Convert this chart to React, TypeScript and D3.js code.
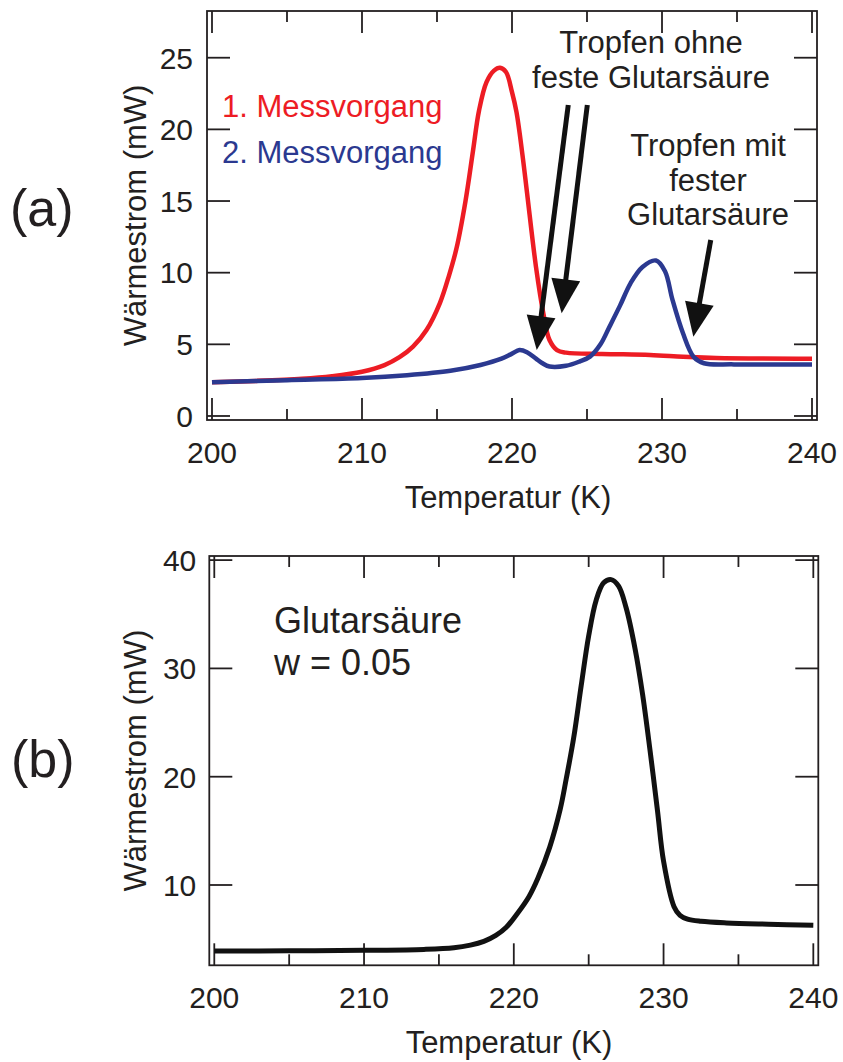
import React from "react";
import * as d3 from "d3";

// ---------- data ----------
const redT = [200, 203, 206, 208, 210, 211.5, 212.5, 213.4, 214.3, 215.2, 215.8, 216.3, 216.9, 217.4, 217.8, 218.3, 218.8, 219.2, 219.6, 220.0, 220.3, 220.7, 221.0, 221.6, 222.1, 222.5, 223.0, 223.6, 226, 229.2, 231.4, 233.6, 240];
const redW = [2.35, 2.45, 2.6, 2.78, 3.09, 3.55, 4.1, 4.84, 6.0, 7.9, 9.8, 11.7, 15.0, 18.5, 21.3, 23.3, 24.1, 24.3, 24.0, 22.6, 21.2, 18.2, 15.6, 10.4, 7.1, 5.3, 4.6, 4.42, 4.33, 4.26, 4.14, 4.05, 4.0];

const blueT = [200, 205, 210, 213, 215.9, 217.9, 219.3, 220.0, 220.5, 221.0, 221.6, 222.0, 222.5, 223.6, 224.5, 225.2, 225.9, 226.5, 227.2, 227.9, 228.7, 229.6, 230.2, 230.7, 231.4, 232.1, 232.8, 234.8, 240];
const blueW = [2.35, 2.5, 2.65, 2.85, 3.16, 3.56, 4.0, 4.35, 4.6, 4.45, 4.0, 3.7, 3.45, 3.5, 3.8, 4.14, 5.0, 6.23, 7.7, 9.26, 10.4, 10.85, 10.1, 8.1, 5.77, 4.14, 3.68, 3.6, 3.6];

const blackT = [200, 205, 210, 214, 216, 217.1, 218, 218.8, 219.5, 220.2, 221, 221.6, 222.4, 223.1, 223.5, 224, 224.5, 225.0, 225.5, 226.0, 226.5, 227.0, 227.5, 228.1, 228.6, 229.1, 229.6, 230, 230.7, 231.1, 231.6, 232.5, 234.2, 237, 240];
const blackW = [3.9, 3.92, 3.97, 4.05, 4.2, 4.45, 4.8, 5.35, 6.1, 7.3, 8.9, 10.6, 13.5, 17.0, 19.8, 23.6, 28.4, 33.0, 36.3, 37.9, 38.2, 37.6, 35.6, 31.8, 27.6, 22.4, 16.8, 12.2, 8.0, 7.2, 6.85, 6.65, 6.5, 6.38, 6.28];

const xMajorTicks = [200, 210, 220, 230, 240];
const xMinorTicks = [205, 215, 225, 235];
const yTicksTop = [0, 5, 10, 15, 20, 25];
const yTicksBottom = [10, 20, 30, 40];

const legendLabels = ["1. Messvorgang", "2. Messvorgang"];
const annotOhne = ["Tropfen ohne", "feste Glutarsäure"];
const annotMit = ["Tropfen mit", "fester", "Glutarsäure"];
const annotBottom = ["Glutarsäure", "w = 0.05"];
// arrows in data coords: [startT, startW, tipT, tipW]
const arrows = [
  [223.75, 21.7, 221.65, 4.6],
  [225.02, 21.7, 223.31, 7.17],
  [233.25, 12.28, 232.09, 5.53],
];

const FONT = "'Liberation Sans', Arial, Helvetica, sans-serif";
const INK = "#231f20";
const RED = "#ed1c24";
const BLUE = "#2b3990";

type Scale = d3.ScaleLinear<number, number>;

function Frame({ x, y, yTicks, labelDx }: { x: Scale; y: Scale; yTicks: number[]; labelDx: number }) {
  const [x0, x1] = x.range();
  const [y0, y1] = y.range(); // y0 bottom, y1 top
  const major = 22;
  const minor = 11;
  const yt = 23;
  return (
    <g stroke={INK} strokeWidth={1.8} fill="none">
      <rect x={x0} y={y1} width={x1 - x0} height={y0 - y1} />
      {xMajorTicks.map((t) => (
        <g key={"M" + t}>
          <line x1={x(t)} x2={x(t)} y1={y0} y2={y0 - major} />
          <line x1={x(t)} x2={x(t)} y1={y1} y2={y1 + major} />
        </g>
      ))}
      {xMinorTicks.map((t) => (
        <g key={"m" + t}>
          <line x1={x(t)} x2={x(t)} y1={y0} y2={y0 - minor} />
          <line x1={x(t)} x2={x(t)} y1={y1} y2={y1 + minor} />
        </g>
      ))}
      {yTicks.map((v) => (
        <g key={"y" + v}>
          <line x1={x0} x2={x0 + yt} y1={y(v)} y2={y(v)} />
          <line x1={x1} x2={x1 - yt} y1={y(v)} y2={y(v)} />
        </g>
      ))}
      <g stroke="none" fill={INK} fontFamily={FONT} fontSize={30}>
        {xMajorTicks.map((t) => (
          <text key={"lx" + t} x={x(t)} y={y0 + 43} textAnchor="middle">
            {t}
          </text>
        ))}
        {yTicks.map((v) => (
          <text key={"ly" + v} x={x0 - labelDx} y={y(v)} dy="0.36em" textAnchor="end">
            {v}
          </text>
        ))}
      </g>
    </g>
  );
}

function Arrow({ sx, sy, tx, ty }: { sx: number; sy: number; tx: number; ty: number }) {
  const dx = tx - sx;
  const dy = ty - sy;
  const len = Math.sqrt(dx * dx + dy * dy);
  const ux = dx / len;
  const uy = dy / len;
  const hl = 34;
  const hw = 14.5;
  const bx = tx - ux * hl;
  const by = ty - uy * hl;
  const px = -uy;
  const py = ux;
  const head = `M${tx},${ty}L${bx + px * hw},${by + py * hw}L${bx - px * hw},${by - py * hw}Z`;
  return (
    <g>
      <line x1={sx} y1={sy} x2={bx + ux * 2} y2={by + uy * 2} stroke="#111" strokeWidth={5} />
      <path d={head} fill="#111" />
    </g>
  );
}

export default function App() {
  const xTop = d3.scaleLinear().domain([199.667, 240.333]).range([207, 817]);
  const yTop = d3.scaleLinear().domain([-0.28, 28.26]).range([420, 11]);
  const xBot = d3.scaleLinear().domain([199.667, 240.333]).range([209.3, 818.3]);
  const yBot = d3.scaleLinear().domain([2.585, 40.38]).range([965.3, 556]);

  const curve = d3.curveCatmullRom.alpha(0.5);
  const lineTop = d3
    .line<[number, number]>()
    .x((d) => xTop(d[0]))
    .y((d) => yTop(d[1]))
    .curve(curve);
  const lineBot = d3
    .line<[number, number]>()
    .x((d) => xBot(d[0]))
    .y((d) => yBot(d[1]))
    .curve(curve);

  const red = redT.map((t, i) => [t, redW[i]] as [number, number]);
  const blue = blueT.map((t, i) => [t, blueW[i]] as [number, number]);
  const black = blackT.map((t, i) => [t, blackW[i]] as [number, number]);

  const yTitleTopY = (yTop.range()[0] + yTop.range()[1]) / 2;
  const yTitleBotY = (yBot.range()[0] + yBot.range()[1]) / 2;

  return (
    <svg
      width={843}
      height={1062}
      style={{ position: "absolute", left: 0, top: 0, background: "#fff" }}
      fontFamily={FONT}
    >
      <rect x={0} y={0} width={843} height={1062} fill="#fff" />

      {/* ---------- panel (a) ---------- */}
      <Frame x={xTop} y={yTop} yTicks={yTicksTop} labelDx={14} />
      <path d={lineTop(red) || ""} fill="none" stroke={RED} strokeWidth={4.5} strokeLinejoin="round" />
      <path d={lineTop(blue) || ""} fill="none" stroke={BLUE} strokeWidth={4.5} strokeLinejoin="round" />

      <text x={222} y={117} fontSize={31} fill={RED}>
        {legendLabels[0]}
      </text>
      <text x={222} y={163} fontSize={31} fill={BLUE}>
        {legendLabels[1]}
      </text>

      <g fontSize={31} fill={INK} textAnchor="middle">
        <text x={651} y={53}>{annotOhne[0]}</text>
        <text x={651} y={88}>{annotOhne[1]}</text>
        <text x={708} y={156}>{annotMit[0]}</text>
        <text x={708} y={191}>{annotMit[1]}</text>
        <text x={708} y={225}>{annotMit[2]}</text>
      </g>

      {arrows.map((a, i) => (
        <Arrow key={i} sx={xTop(a[0])} sy={yTop(a[1])} tx={xTop(a[2])} ty={yTop(a[3])} />
      ))}

      <text x={508} y={508} fontSize={31} fill={INK} textAnchor="middle">
        Temperatur (K)
      </text>
      <text
        transform={`translate(146,${yTitleTopY}) rotate(-90)`}
        fontSize={31}
        fill={INK}
        textAnchor="middle"
      >
        Wärmestrom (mW)
      </text>
      <text x={10} y={226} fontSize={52} fill={INK}>
        (a)
      </text>

      {/* ---------- panel (b) ---------- */}
      <Frame x={xBot} y={yBot} yTicks={yTicksBottom} labelDx={13} />
      <path d={lineBot(black) || ""} fill="none" stroke="#111" strokeWidth={5} strokeLinejoin="round" />

      <g fontSize={36} fill={INK}>
        <text x={274} y={633}>{annotBottom[0]}</text>
        <text x={274} y={675}>{annotBottom[1]}</text>
      </g>

      <text x={509} y={1053} fontSize={31} fill={INK} textAnchor="middle">
        Temperatur (K)
      </text>
      <text
        transform={`translate(146,${yTitleBotY}) rotate(-90)`}
        fontSize={31}
        fill={INK}
        textAnchor="middle"
      >
        Wärmestrom (mW)
      </text>
      <text x={11} y={777} fontSize={52} fill={INK}>
        (b)
      </text>
    </svg>
  );
}
